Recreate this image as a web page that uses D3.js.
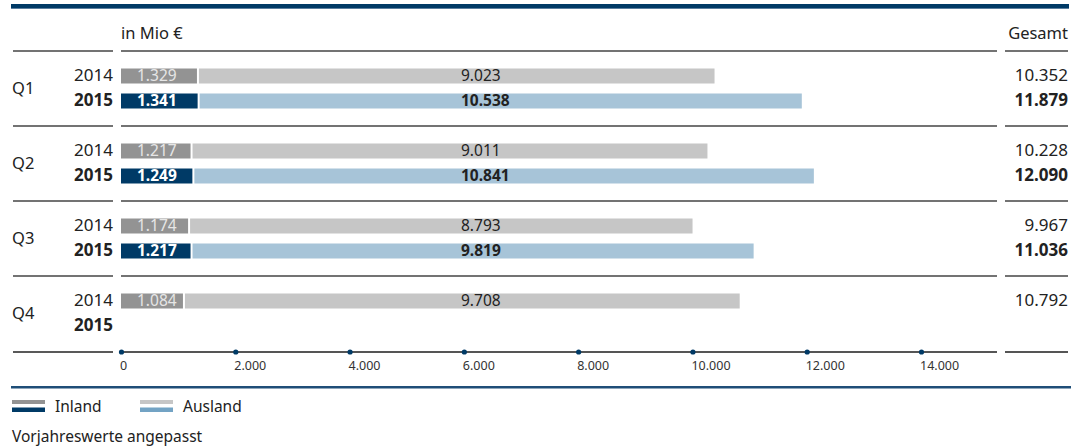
<!DOCTYPE html>
<html><head><meta charset="utf-8">
<script src="https://cdn.jsdelivr.net/npm/d3@7"></script>
<style>
html,body{margin:0;padding:0;background:#fff;}
svg{display:block;font-family:"Noto Sans","Open Sans",sans-serif;}
</style></head>
<body><svg id="c" width="1071" height="448"></svg>
<script>
const quarters = ["Q1","Q2","Q3","Q4"];
const years = ["2014","2015"];
const inland2014 = [1329,1217,1174,1084];
const ausland2014 = [9023,9011,8793,9708];
const gesamt2014 = [10352,10228,9967,10792];
const inland2015 = [1341,1249,1217,null];
const ausland2015 = [10538,10841,9819,null];
const gesamt2015 = [11879,12090,11036,null];
const tickValues = [0,2000,4000,6000,8000,10000,12000,14000];

const fmt = v => d3.format(",")(v).replace(/,/g,".");
const svg = d3.select("#c");
const x = d3.scaleLinear().domain([0,14000]).range([121,921]);
const yGroup = d3.scaleBand().domain(quarters).range([51,351]);
const yYear = d3.scaleBand().domain(years).range([0,75]).paddingInner(0.4).paddingOuter(0.7);

const col = {
  inland:{"2014":"#939393","2015":"#003a66"},
  ausland:{"2014":"#c6c6c6","2015":"#a7c4d8"}
};
const FS = 17, BFS = 15.5;

// top rule
svg.append("rect").attr("x",11).attr("y",4).attr("width",1058).attr("height",5).attr("fill","#003a66");
svg.append("rect").attr("x",11).attr("y",8).attr("width",1058).attr("height",1).attr("fill","#5b7f9f");

svg.append("text").attr("x",121).attr("y",35).attr("dominant-baseline","middle").attr("font-size",16.5).attr("fill","#222").text("in Mio €");
svg.append("text").attr("x",1068).attr("y",35).attr("dominant-baseline","middle").attr("text-anchor","end").attr("font-size",16.5).attr("fill","#222").text("Gesamt");

function sep(y, color){
  [[13,113],[121,997],[1005,1068]].forEach(s=>{
    svg.append("line").attr("x1",s[0]).attr("x2",s[1]).attr("y1",y).attr("y2",y)
      .attr("stroke",color||"#444").attr("stroke-width",1.5);
  });
}
quarters.forEach(q=>sep(yGroup(q)));

const rows = [];
quarters.forEach((q,i)=>{
  rows.push({q,year:"2014",inl:inland2014[i],aus:ausland2014[i],ges:gesamt2014[i]});
  rows.push({q,year:"2015",inl:inland2015[i],aus:ausland2015[i],ges:gesamt2015[i]});
});

quarters.forEach(q=>{
  svg.append("text").attr("x",12).attr("y",yGroup(q)+yGroup.bandwidth()/2+1)
    .attr("dominant-baseline","middle").attr("font-size",16.5).attr("fill","#222").text(q);
});

rows.forEach(r=>{
  const y0 = yGroup(r.q)+yYear(r.year);
  const h = yYear.bandwidth();
  const cy = y0+h/2+0.5;
  const bold = r.year==="2015";
  svg.append("text").attr("x",113).attr("y",cy).attr("dominant-baseline","middle")
    .attr("text-anchor","end").attr("font-size",FS).attr("font-weight",bold?"bold":"normal")
    .attr("fill","#222").text(r.year);
  if(r.inl!=null){
    const xi1 = x(r.inl);
    svg.append("rect").attr("x",x(0)).attr("y",y0).attr("width",xi1-x(0)).attr("height",h).attr("fill",col.inland[r.year]);
    svg.append("text").attr("x",x(0)+16).attr("y",cy).attr("dominant-baseline","middle")
      .attr("font-size",BFS).attr("font-weight",bold?"bold":"normal")
      .attr("fill",bold?"#fff":"#e6e6e6").text(fmt(r.inl));
    const xa0 = xi1+2;
    const xa1 = xa0 + (x(r.aus)-x(0));
    svg.append("rect").attr("x",xa0).attr("y",y0).attr("width",xa1-xa0).attr("height",h).attr("fill",col.ausland[r.year]);
    svg.append("text").attr("x",461).attr("y",cy).attr("dominant-baseline","middle")
      .attr("font-size",BFS).attr("font-weight",bold?"bold":"normal")
      .attr("fill","#222").text(fmt(r.aus));
  }
  if(r.ges!=null){
    svg.append("text").attr("x",1068).attr("y",cy).attr("dominant-baseline","middle")
      .attr("text-anchor","end").attr("font-size",FS).attr("font-weight",bold?"bold":"normal")
      .attr("fill","#222").text(fmt(r.ges));
  }
});

// axis
const axY = 352;
svg.append("line").attr("x1",13).attr("x2",113).attr("y1",axY).attr("y2",axY).attr("stroke","#222").attr("stroke-width",1.5);
svg.append("line").attr("x1",121).attr("x2",997).attr("y1",axY).attr("y2",axY).attr("stroke","#555").attr("stroke-width",2);
svg.append("line").attr("x1",1005).attr("x2",1068).attr("y1",axY).attr("y2",axY).attr("stroke","#555").attr("stroke-width",2);
const axis = d3.axisBottom(x).tickValues(tickValues).tickSize(0).tickPadding(0).tickFormat(fmt);
const ag = svg.append("g").attr("transform",`translate(0,${axY})`).call(axis);
ag.select(".domain").remove();
ag.selectAll("text").attr("font-size",12.5).attr("fill","#333").attr("font-family","Noto Sans, sans-serif")
  .attr("text-anchor","start").attr("x",-1.5).attr("dy",null).attr("y",15).attr("dominant-baseline","middle");
ag.selectAll(".tick").append("circle").attr("r",2.6).attr("fill","#003a66");

// bottom rule
svg.append("rect").attr("x",11).attr("y",386).attr("width",1060).attr("height",2.5).attr("fill","#1f4e78");

// legend
const leg = [{name:"Inland",x:12,c1:col.inland["2014"],c2:col.inland["2015"]},
             {name:"Ausland",x:140,c1:col.ausland["2014"],c2:"#73a3c4"}];
leg.forEach(l=>{
  svg.append("rect").attr("x",l.x).attr("y",400).attr("width",33).attr("height",4).attr("fill",l.c1);
  svg.append("rect").attr("x",l.x).attr("y",407.5).attr("width",33).attr("height",4.5).attr("fill",l.c2);
  svg.append("text").attr("x",l.x+43).attr("y",408).attr("dominant-baseline","middle").attr("font-size",15.5).attr("fill","#222").text(l.name);
});
svg.append("text").attr("x",12).attr("y",438).attr("dominant-baseline","middle").attr("font-size",15.5).attr("fill","#222").text("Vorjahreswerte angepasst");
</script></body></html>
